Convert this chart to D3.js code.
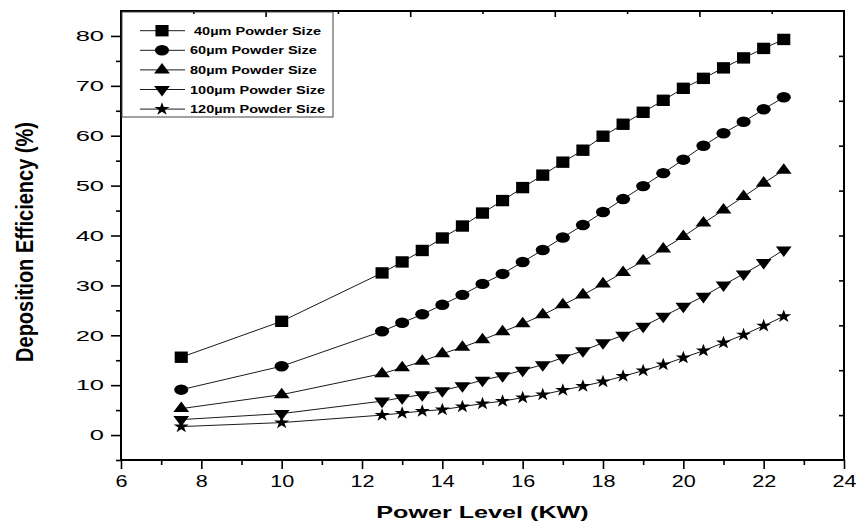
<!DOCTYPE html>
<html>
<head>
<meta charset="utf-8">
<script src="https://cdn.jsdelivr.net/npm/d3@7"></script>
<style>
  body { margin: 0; background: #fff; }
  text { font-family: "Liberation Sans", Arial, sans-serif; fill: #000; }
</style>
</head>
<body>
<div id="chart"></div>
<script>
// Power level (KW) on the x axis
const powerLevels = [7.5, 10, 12.5, 13, 13.5, 14, 14.5, 15, 15.5, 16, 16.5, 17, 17.5,
                     18, 18.5, 19, 19.5, 20, 20.5, 21, 21.5, 22, 22.5];

// Deposition efficiency (%) for each powder size
const eff40  = [15.6, 22.8, 32.5, 34.7, 37.0, 39.5, 41.9, 44.5, 47.0, 49.6, 52.1, 54.7, 57.1,
                59.9, 62.3, 64.7, 67.1, 69.5, 71.5, 73.6, 75.6, 77.5, 79.3];
const eff60  = [9.1, 13.8, 20.8, 22.5, 24.2, 26.1, 28.1, 30.3, 32.3, 34.7, 37.1, 39.6, 42.1,
                44.7, 47.3, 49.9, 52.5, 55.2, 58.0, 60.5, 62.8, 65.3, 67.7];
const eff80  = [5.3, 8.1, 12.3, 13.5, 14.8, 16.3, 17.6, 19.1, 20.7, 22.3, 24.1, 26.1, 28.1,
                30.3, 32.6, 34.9, 37.3, 39.8, 42.5, 45.1, 47.8, 50.5, 53.1];
const eff100 = [3.1, 4.3, 6.8, 7.5, 8.1, 8.9, 9.9, 11.0, 11.9, 13.0, 14.1, 15.5, 16.9,
                18.5, 20.0, 21.8, 23.8, 25.8, 27.8, 30.1, 32.3, 34.6, 37.1];
const eff120 = [1.7, 2.5, 4.0, 4.4, 4.8, 5.1, 5.7, 6.3, 6.8, 7.5, 8.1, 9.0, 9.8,
                10.7, 11.8, 12.9, 14.1, 15.5, 16.9, 18.5, 20.1, 21.9, 23.8];

const seriesNames = [" 40µm Powder Size", "60µm Powder Size", "80µm Powder Size",
                     "100µm Powder Size", "120µm Powder Size"];

const xTicks = [6, 8, 10, 12, 14, 16, 18, 20, 22, 24];
const xMinorTicks = [7, 9, 11, 13, 15, 17, 19, 21, 23];
const yTicks = [0, 10, 20, 30, 40, 50, 60, 70, 80];
const yMinorTicks = [-5, 5, 15, 25, 35, 45, 55, 65, 75];

const width = 856, height = 526;
const plotLeft = 121, plotRight = 844, plotTop = 11, plotBottom = 460;

const x = d3.scaleLinear().domain([6, 24]).range([plotLeft, plotRight]);
const y = d3.scaleLinear().domain([-5, 85]).range([plotBottom, plotTop]);

// marker shapes (the picture is a bit stretched sideways)
const markers = [
  { type: d3.symbolSquare,   size: 130, sx: 1.15, rot: 0 },
  { type: d3.symbolCircle,   size: 86,  sx: 1.35, rot: 0 },
  { type: d3.symbolTriangle, size: 64,  sx: 1.3,  rot: 0 },
  { type: d3.symbolTriangle, size: 64,  sx: 1.3,  rot: 180 },
  { type: d3.symbolStar,     size: 54,  sx: 1.15, rot: 0 }
];

const allSeries = [eff40, eff60, eff80, eff100, eff120].map((vals, i) => ({
  name: seriesNames[i],
  marker: markers[i],
  points: vals.map((v, j) => ({ x: powerLevels[j], y: v }))
}));

const svg = d3.select("#chart").append("svg")
  .attr("width", width)
  .attr("height", height);

// Bottom axis with minor ticks
const xAxis = svg.append("g")
  .attr("transform", `translate(0,${plotBottom})`)
  .call(d3.axisBottom(x).tickValues(xTicks).tickSize(9).tickPadding(7));
svg.append("g")
  .attr("transform", `translate(0,${plotBottom})`)
  .call(d3.axisBottom(x).tickValues(xMinorTicks).tickSize(5).tickFormat(""));

// Left axis with minor ticks
const yAxis = svg.append("g")
  .attr("transform", `translate(${plotLeft},0)`)
  .call(d3.axisLeft(y).tickValues(yTicks).tickSize(10).tickPadding(8));
svg.append("g")
  .attr("transform", `translate(${plotLeft},0)`)
  .call(d3.axisLeft(y).tickValues(yMinorTicks).tickSize(5).tickFormat(""));

xAxis.selectAll("text")
  .attr("font-size", 16)
  .attr("transform", "scale(1.35,1)");
yAxis.selectAll("text")
  .attr("font-size", 15)
  .attr("x", 0)
  .attr("transform", "translate(-17,0) scale(1.7,1)");

// Top and right frame ticks (pointing inward)
const xTop = d3.scaleLinear().domain([0, 10]).range([plotLeft, plotRight]);
const yRight = d3.scaleLinear().domain([0, 10]).range([plotBottom, plotTop]);
svg.append("g")
  .attr("transform", `translate(0,${plotTop})`)
  .call(d3.axisTop(xTop).tickValues([1, 3, 5, 7, 9]).tickSize(-3).tickFormat(""));
svg.append("g")
  .attr("transform", `translate(0,${plotTop})`)
  .call(d3.axisTop(xTop).tickValues([2, 4, 6, 8]).tickSize(-6).tickFormat(""));
svg.append("g")
  .attr("transform", `translate(${plotRight},0)`)
  .call(d3.axisRight(yRight).tickValues([1, 2, 3, 4, 5, 6, 7, 8, 9]).tickSize(-5).tickFormat(""));

svg.selectAll(".domain").remove();
svg.selectAll(".tick line").attr("stroke", "#000").attr("stroke-width", 1.6);

// Plot frame
svg.append("rect")
  .attr("x", plotLeft)
  .attr("y", plotTop)
  .attr("width", plotRight - plotLeft)
  .attr("height", plotBottom - plotTop)
  .attr("fill", "none")
  .attr("stroke", "#000")
  .attr("stroke-width", 2);

// Series lines and markers
const line = d3.line().x(d => x(d.x)).y(d => y(d.y));

allSeries.forEach(s => {
  svg.append("path")
    .datum(s.points)
    .attr("d", line)
    .attr("fill", "none")
    .attr("stroke", "#000")
    .attr("stroke-width", 0.9);

  const sym = d3.symbol().type(s.marker.type).size(s.marker.size);
  svg.append("g").selectAll("path")
    .data(s.points)
    .enter().append("path")
    .attr("d", sym)
    .attr("fill", "#000")
    .attr("transform", d => `translate(${x(d.x)},${y(d.y)}) scale(${s.marker.sx},1) rotate(${s.marker.rot})`);
});

// Legend
const legend = svg.append("g");
legend.append("rect")
  .attr("x", plotLeft + 1)
  .attr("y", plotTop + 1)
  .attr("width", 211)
  .attr("height", 105)
  .attr("fill", "none")
  .attr("stroke", "#444")
  .attr("stroke-width", 1);

allSeries.forEach((s, i) => {
  const ly = 30.7 + i * 19.6;
  legend.append("line")
    .attr("x1", 140).attr("x2", 185)
    .attr("y1", ly).attr("y2", ly)
    .attr("stroke", "#000")
    .attr("stroke-width", 0.9);
  legend.append("path")
    .attr("d", d3.symbol().type(s.marker.type).size(s.marker.size))
    .attr("fill", "#000")
    .attr("transform", `translate(162,${ly}) scale(${s.marker.sx},1) rotate(${s.marker.rot})`);
  legend.append("text")
    .attr("transform", `translate(190,${ly + 4}) scale(1.32,1)`)
    .attr("font-size", 11)
    .attr("font-weight", "bold")
    .style("white-space", "pre")
    .text(s.name);
});

// Axis titles
svg.append("text")
  .attr("transform", "translate(482.5,518) scale(1.48,1)")
  .attr("text-anchor", "middle")
  .attr("font-size", 17)
  .attr("font-weight", "bold")
  .text("Power Level (KW)");

svg.append("text")
  .attr("transform", "translate(33,242) rotate(-90) scale(1,1.16)")
  .attr("text-anchor", "middle")
  .attr("font-size", 20)
  .attr("font-weight", "bold")
  .text("Deposition Efficiency (%)");
</script>
</body>
</html>
